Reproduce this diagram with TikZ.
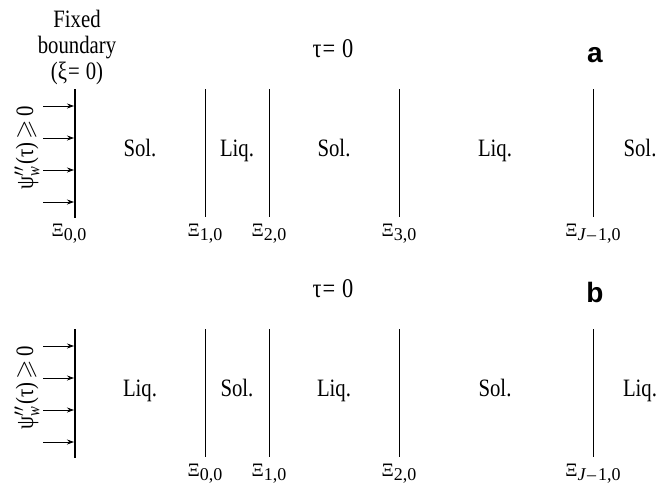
\documentclass[tikz,border=0pt]{standalone}
\usepackage{fontspec}
\usepackage{amssymb}
\setmainfont{Liberation Serif}[FakeStretch=0.83]
\newfontfamily\plainserif{Liberation Serif}
\newfontfamily\panelfont{Liberation Sans}[BoldFont={Liberation Sans Bold}]
\usetikzlibrary{arrows.meta}
\newcommand{\mainsz}{\fontsize{25}{26}\selectfont}
\newcommand{\Xsub}[1]{{\plainserif\fontsize{19}{20}\selectfont Ξ\raisebox{-4.5pt}{\fontsize{18}{19}\selectfont #1}}}
\begin{document}
\begin{tikzpicture}[x=1pt,y=-1pt,
  lbl/.style={font=\mainsz, inner sep=0pt, anchor=base},
  wall/.style={line width=2.4pt},
  iface/.style={line width=1pt},
  flux/.style={line width=0.8pt, -{Stealth[length=7pt,width=5pt]}},
  xilab/.style={inner sep=0pt, anchor=base},
  panellab/.style={font=\panelfont\bfseries\fontsize{28}{30}\selectfont, inner sep=0pt, anchor=base}]
\useasboundingbox (0,0) rectangle (672,488);

\foreach \p/\dy in {a/0,b/240}{
  \coordinate (\p-wt) at (75,89+\dy);
  \coordinate (\p-wb) at (75,218+\dy);
  \draw[wall] (\p-wt) -- (\p-wb);
  \foreach \i/\ay in {1/106,2/138,3/170,4/202}{
    \coordinate (\p-s\i) at (43,\ay+\dy);
    \coordinate (\p-e\i) at (74,\ay+\dy);
    \draw[flux] (\p-s\i) -- (\p-e\i);
  }
  \foreach \k/\x in {1/205,2/269,3/399,4/593}{
    \coordinate (\p-t\k) at (\x,89+\dy);
    \coordinate (\p-b\k) at (\x,217+\dy);
    \draw[iface] (\p-t\k) -- (\p-b\k);
  }
  \node[lbl] (\p-tau) at (333,57+\dy) {\fontsize{27}{28}\selectfont τ\kern1pt=\kern7pt0};
  \node[rotate=90, font=\mainsz, inner sep=0pt] (\p-flux) at (27,148+\dy) {ψ$''_{\mathit{w}}$(τ)\kern3pt$\geqslant$\kern3pt0};
}

% panel a
\node[lbl, align=center] (fixed) at (77,79) {Fixed\\boundary\\(ξ\kern1pt=\kern6pt0)};
\node[panellab] (pa) at (595,62) {a};
\node[lbl] (a-r1) at (140,156) {Sol.};
\node[lbl] (a-r2) at (237,156) {Liq.};
\node[lbl] (a-r3) at (334,156) {Sol.};
\node[lbl] (a-r4) at (495,156) {Liq.};
\node[lbl] (a-r5) at (640,156) {Sol.};
\node[xilab] (a-x0) at (69,236) {\Xsub{0,0}};
\node[xilab] (a-x1) at (205,236) {\Xsub{1,0}};
\node[xilab] (a-x2) at (269,236) {\Xsub{2,0}};
\node[xilab] (a-x3) at (399,236) {\Xsub{3,0}};
\node[xilab] (a-x4) at (593,236) {\Xsub{\textit{J}\kern1pt–\kern2pt1,0}};

% panel b
\node[panellab] (pb) at (595,302) {b};
\node[lbl] (b-r1) at (140,396) {Liq.};
\node[lbl] (b-r2) at (237,396) {Sol.};
\node[lbl] (b-r3) at (334,396) {Liq.};
\node[lbl] (b-r4) at (495,396) {Sol.};
\node[lbl] (b-r5) at (640,396) {Liq.};
\node[xilab] (b-x1) at (205,476) {\Xsub{0,0}};
\node[xilab] (b-x2) at (269,476) {\Xsub{1,0}};
\node[xilab] (b-x3) at (399,476) {\Xsub{2,0}};
\node[xilab] (b-x4) at (593,476) {\Xsub{\textit{J}\kern1pt–\kern2pt1,0}};
\end{tikzpicture}
\end{document}
